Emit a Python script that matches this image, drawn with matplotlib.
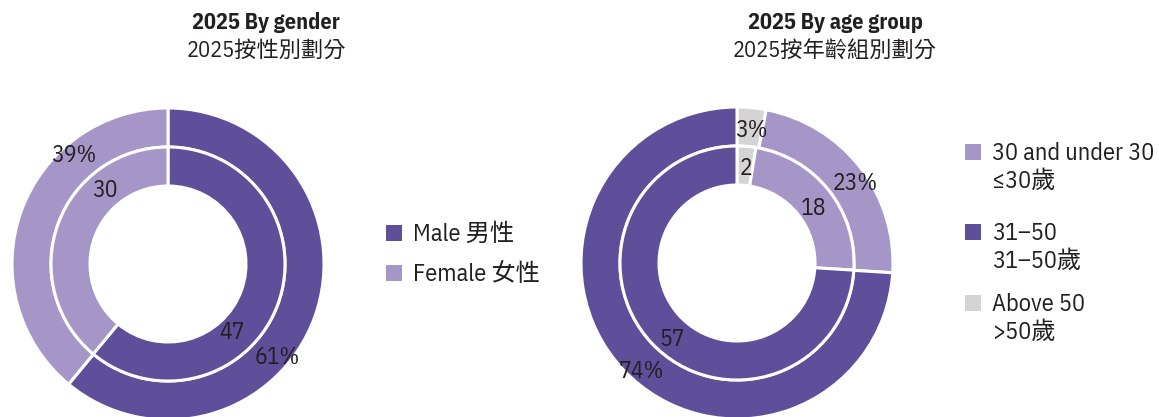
import matplotlib
matplotlib.use("Agg")
import matplotlib.pyplot as plt
from matplotlib.patches import Rectangle

plt.rcParams['font.family'] = ['IBM Plex Sans Condensed', 'Liberation Sans Narrow', 'Noto Sans CJK TC', 'DejaVu Sans']

# data
gender_labels = ["Male 男性", "Female 女性"]
gender_pct = [61, 39]
gender_count = [47, 30]

age_labels = ["Above 50\n>50歲", "30 and under 30\n≤30歲", "31–50\n31–50歲"]
age_pct = [3, 23, 74]
age_count = [2, 18, 57]

DARK = "#5f4f9a"
LIGHT = "#a696c7"
GREY = "#d4d4d4"
TXT = "#231f20"

gender_colors = [DARK, LIGHT]
age_colors = [GREY, LIGHT, DARK]

W, H = 1159, 417
fig = plt.figure(figsize=(W / 100, H / 100), dpi=100)
ax = fig.add_axes([0, 0, 1, 1])


def py(y):
    # pixel row (from top) -> data y
    return H - y


def donut(cx, cy, outer, inner, colors):
    wp = dict(width=39, edgecolor="white", linewidth=2.2)
    ax.pie(outer, colors=colors, startangle=90, counterclock=False,
           radius=156, center=(cx, py(cy)), wedgeprops=wp, frame=True)
    ax.pie(inner, colors=colors, startangle=90, counterclock=False,
           radius=117, center=(cx, py(cy)), wedgeprops=wp, frame=True)


donut(168, 264, gender_pct, gender_count, gender_colors)
donut(737, 263, age_pct, age_count, age_colors)

lab = dict(fontsize=17, color=TXT, ha="center", va="baseline")
# gender labels
ax.text(277, py(364), f"{gender_pct[0]}%", **lab)
ax.text(74, py(162), f"{gender_pct[1]}%", **lab)
ax.text(232, py(339), f"{gender_count[0]}", **lab)
ax.text(104.5, py(197), f"{gender_count[1]}", **lab)
# age labels
ax.text(751, py(137), f"{age_pct[0]}%", **lab)
ax.text(855, py(190), f"{age_pct[1]}%", **lab)
ax.text(641.5, py(378), f"{age_pct[2]}%", **lab)
ax.text(746, py(175), f"{age_count[0]}", **lab)
ax.text(813, py(215), f"{age_count[1]}", **lab)
ax.text(672.5, py(346), f"{age_count[2]}", **lab)

# titles
for x, t1, t2 in [(266, "2025 By gender", "2025按性別劃分"),
                  (835, "2025 By age group", "2025按年齡組別劃分")]:
    ax.text(x, py(29), t1, fontsize=16, fontweight="bold", color=TXT, ha="center", va="baseline")
    ax.text(x, py(57), t2, fontsize=16, color=TXT, ha="center", va="baseline")


def legend(x, baselines, labels, colors):
    # square sits on the baseline of the first text line
    for b, label, c in zip(baselines, labels, colors):
        ax.add_patch(Rectangle((x, py(b)), 16, 16, color=c, lw=0))
        for i, line in enumerate(label.split("\n")):
            ax.text(x + 27, py(b + 28 * i), line, fontsize=17.5, color=TXT,
                    ha="left", va="baseline")


legend(386, [241, 281], gender_labels, gender_colors)
legend(965, [160, 240, 311], [age_labels[1], age_labels[2], age_labels[0]],
       [age_colors[1], age_colors[2], age_colors[0]])

ax.set_xlim(0, W)
ax.set_ylim(0, H)
ax.set_aspect("auto")
ax.axis("off")

fig.savefig("out.png", dpi=100, facecolor="white")
